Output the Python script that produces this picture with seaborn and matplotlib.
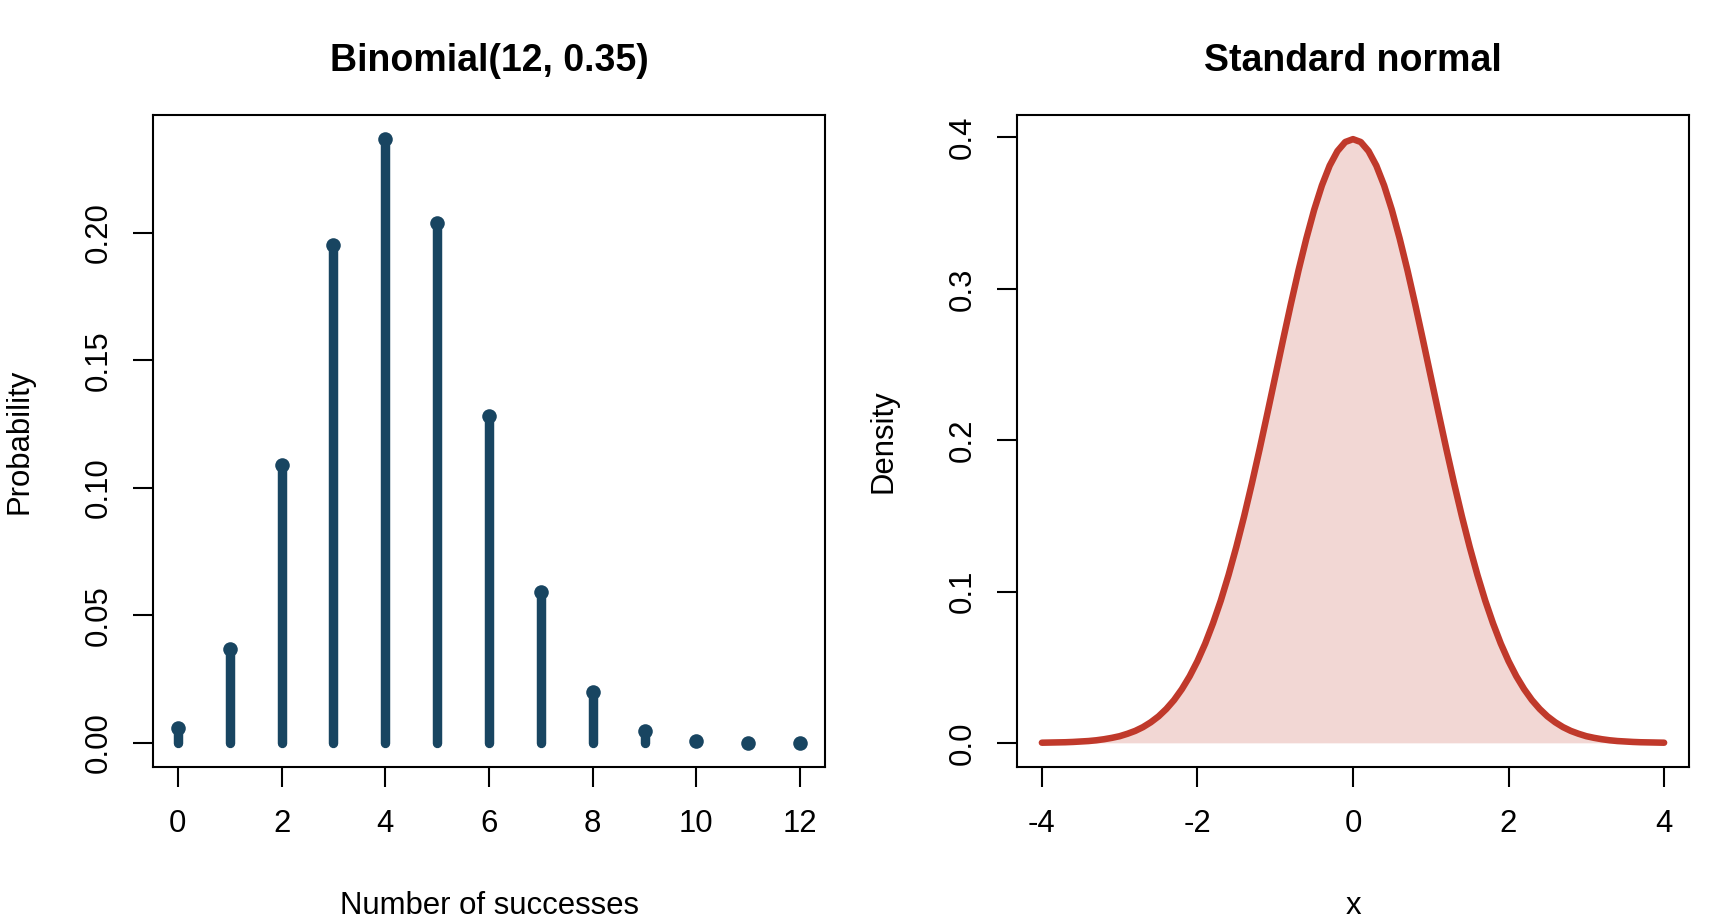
import matplotlib
matplotlib.use("Agg")
import matplotlib.pyplot as plt
import seaborn as sns
import pandas as pd

# ---------------- data ----------------
successes = [0, 1, 2, 3, 4, 5, 6, 7, 8, 9, 10, 11, 12]
probability = [0.00569, 0.03676, 0.10886, 0.19539, 0.23672, 0.20395, 0.12812,
               0.05913, 0.01990, 0.00476, 0.00077, 0.00008, 0.00000]

x_vals = [-4.0, -3.9, -3.8, -3.7, -3.6, -3.5, -3.4, -3.3, -3.2, -3.1,
          -3.0, -2.9, -2.8, -2.7, -2.6, -2.5, -2.4, -2.3, -2.2, -2.1,
          -2.0, -1.9, -1.8, -1.7, -1.6, -1.5, -1.4, -1.3, -1.2, -1.1,
          -1.0, -0.9, -0.8, -0.7, -0.6, -0.5, -0.4, -0.3, -0.2, -0.1,
          0.0, 0.1, 0.2, 0.3, 0.4, 0.5, 0.6, 0.7, 0.8, 0.9,
          1.0, 1.1, 1.2, 1.3, 1.4, 1.5, 1.6, 1.7, 1.8, 1.9,
          2.0, 2.1, 2.2, 2.3, 2.4, 2.5, 2.6, 2.7, 2.8, 2.9,
          3.0, 3.1, 3.2, 3.3, 3.4, 3.5, 3.6, 3.7, 3.8, 3.9, 4.0]
density = [0.0001, 0.0002, 0.0003, 0.0004, 0.0006, 0.0009, 0.0012, 0.0017, 0.0024, 0.0033,
           0.0044, 0.0060, 0.0079, 0.0104, 0.0136, 0.0175, 0.0224, 0.0283, 0.0355, 0.0440,
           0.0540, 0.0656, 0.0790, 0.0940, 0.1109, 0.1295, 0.1497, 0.1714, 0.1942, 0.2179,
           0.2420, 0.2661, 0.2897, 0.3123, 0.3332, 0.3521, 0.3683, 0.3814, 0.3910, 0.3970,
           0.3989, 0.3970, 0.3910, 0.3814, 0.3683, 0.3521, 0.3332, 0.3123, 0.2897, 0.2661,
           0.2420, 0.2179, 0.1942, 0.1714, 0.1497, 0.1295, 0.1109, 0.0940, 0.0790, 0.0656,
           0.0540, 0.0440, 0.0355, 0.0283, 0.0224, 0.0175, 0.0136, 0.0104, 0.0079, 0.0060,
           0.0044, 0.0033, 0.0024, 0.0017, 0.0012, 0.0009, 0.0006, 0.0004, 0.0003, 0.0002, 0.0001]

left_xticks = [0, 2, 4, 6, 8, 10, 12]
left_yticks = [0.00, 0.05, 0.10, 0.15, 0.20]
left_yticklabels = ["0.00", "0.05", "0.10", "0.15", "0.20"]
right_xticks = [-4, -2, 0, 2, 4]
right_yticks = [0.0, 0.1, 0.2, 0.3, 0.4]
right_yticklabels = ["0.0", "0.1", "0.2", "0.3", "0.4"]

title_left = "Binomial(12, 0.35)"
title_right = "Standard normal"
xlabel_left = "Number of successes"
ylabel_left = "Probability"
xlabel_right = "x"
ylabel_right = "Density"

stem_color = "#184561"
curve_color = "#C0392B"

# ---------------- style ----------------
sns.set_theme(style="white")
plt.rcParams["font.family"] = ["Liberation Sans", "DejaVu Sans"]

binom_df = pd.DataFrame({"k": successes, "p": probability})
norm_df = pd.DataFrame({"x": x_vals, "d": density})

W, H = 1728, 921
fig = plt.figure(figsize=(W / 100, H / 100), dpi=100)
ax_l = fig.add_axes([153 / W, (H - 767) / H, 672 / W, 652 / H])
ax_r = fig.add_axes([1017 / W, (H - 767) / H, 672 / W, 652 / H])

# ---- left: binomial pmf ----
ax_l.vlines(binom_df["k"], 0, binom_df["p"], color=stem_color, lw=6.8,
            capstyle="round", zorder=2)
sns.scatterplot(data=binom_df, x="k", y="p", ax=ax_l, color=stem_color,
                s=110, linewidth=0, zorder=3)
pmax = max(probability)
ax_l.set_xlim(-0.48, 12.48)
ax_l.set_ylim(-0.04 * pmax, 1.04 * pmax)
ax_l.set_xticks(left_xticks)
ax_l.set_yticks(left_yticks)
ax_l.set_yticklabels(left_yticklabels)

# ---- right: standard normal ----
ax_r.fill_between(norm_df["x"], 0, norm_df["d"], color=curve_color, alpha=0.2,
                  linewidth=0, zorder=1)
sns.lineplot(data=norm_df, x="x", y="d", ax=ax_r, color=curve_color, lw=4.7,
             solid_capstyle="round", zorder=3)
dmax = max(density)
ax_r.set_xlim(-4.32, 4.32)
ax_r.set_ylim(-0.04 * dmax, 1.04 * dmax)
ax_r.set_xticks(right_xticks)
ax_r.set_xticklabels([str(t) for t in right_xticks])
ax_r.set_yticks(right_yticks)
ax_r.set_yticklabels(right_yticklabels)

for ax, title, xl, yl in [(ax_l, title_left, xlabel_left, ylabel_left),
                          (ax_r, title_right, xlabel_right, ylabel_right)]:
    for s in ax.spines.values():
        s.set_visible(True)
        s.set_color("black")
        s.set_linewidth(1.5)
    ax.tick_params(axis="both", which="major", direction="out", length=14.4,
                   width=1.5, color="black", labelsize=22.4, labelcolor="black",
                   bottom=True, left=True, top=False, right=False)
    ax.tick_params(axis="x", pad=15.8)
    ax.tick_params(axis="y", pad=14)
    for lab in ax.get_yticklabels():
        lab.set_rotation(90)
        lab.set_va("center")
    ax.grid(False)
    ax.set_title(title, fontsize=27, fontweight="bold", pad=32, color="black")
    ax.set_xlabel(xl, fontsize=22.4, color="black", va="baseline")
    ax.xaxis.set_label_coords(0.5, -0.2255)
    ax.set_ylabel(yl, fontsize=22.4, color="black", va="center")
    ax.yaxis.set_label_coords(-0.198, 0.5)

fig.savefig("out.png", dpi=100, facecolor="white")
